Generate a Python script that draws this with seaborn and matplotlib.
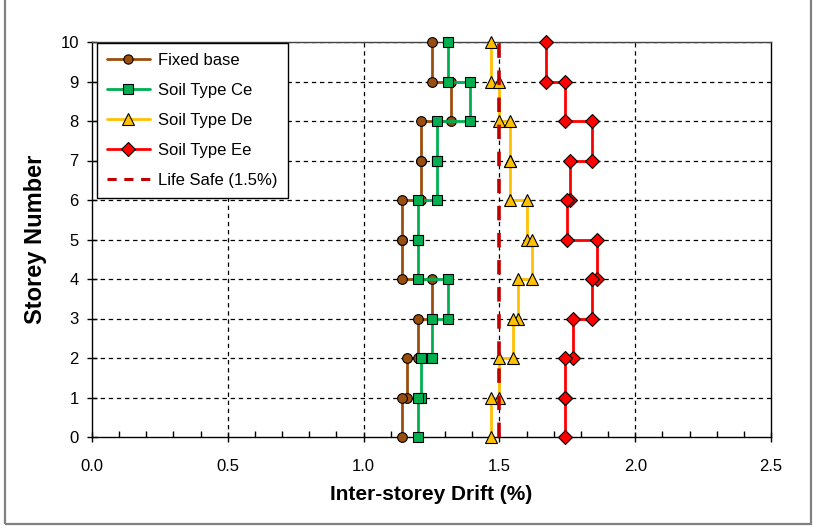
import numpy as np
import pandas as pd
import seaborn as sns
import matplotlib
matplotlib.use("Agg")
import matplotlib.pyplot as plt
from matplotlib.lines import Line2D
from matplotlib.patches import Rectangle
from matplotlib.ticker import MultipleLocator, FormatStrFormatter

# ---------------- data (drift per storey, storey 1..10) ----------------
storeys = [1, 2, 3, 4, 5, 6, 7, 8, 9, 10]
fixed_base = [1.14, 1.16, 1.20, 1.25, 1.14, 1.14, 1.21, 1.21, 1.32, 1.25]
soil_ce = [1.20, 1.21, 1.25, 1.31, 1.20, 1.20, 1.27, 1.27, 1.39, 1.31]
soil_de = [1.47, 1.50, 1.55, 1.57, 1.62, 1.60, 1.54, 1.54, 1.50, 1.47]
soil_ee = [1.74, 1.74, 1.77, 1.84, 1.86, 1.75, 1.76, 1.84, 1.74, 1.67]
life_safe = 1.5
series_names = ["Fixed base", "Soil Type Ce", "Soil Type De", "Soil Type Ee"]
life_label = "Life Safe (1.5%)"
x_ticks = [0.0, 0.5, 1.0, 1.5, 2.0, 2.5]
y_ticks = [0, 1, 2, 3, 4, 5, 6, 7, 8, 9, 10]

colors = {"Fixed base": "#9A4E0E", "Soil Type Ce": "#00B050",
          "Soil Type De": "#FFC000", "Soil Type Ee": "#FF0000"}
markers = {"Fixed base": "o", "Soil Type Ce": "s",
           "Soil Type De": "^", "Soil Type Ee": "D"}
msizes = {"Fixed base": 7, "Soil Type Ce": 7, "Soil Type De": 9, "Soil Type Ee": 7.5}


def step_profile(name, drifts):
    rows = []
    for s, d in sorted(zip(storeys, drifts), reverse=True):
        rows.append((name, d, s))
        rows.append((name, d, s - 1))
    return rows


rows = []
for name, vals in zip(series_names, [fixed_base, soil_ce, soil_de, soil_ee]):
    rows += step_profile(name, vals)
df = pd.DataFrame(rows, columns=["series", "drift", "storey"])
df_life = pd.DataFrame({"drift": [life_safe, life_safe], "storey": [min(y_ticks), max(y_ticks)]})

# ---------------- figure ----------------
sns.set_theme(style="white")
plt.rcParams["font.family"] = ["Liberation Sans", "DejaVu Sans"]
plt.rcParams["text.color"] = "black"
plt.rcParams["axes.labelcolor"] = "black"
plt.rcParams["xtick.color"] = "black"
plt.rcParams["ytick.color"] = "black"

W, H = 813, 529
fig = plt.figure(figsize=(W / 100, H / 100), dpi=100)
ax = fig.add_axes([92 / W, 1 - 437 / H, (771 - 92) / W, (437 - 42) / H])

ax.set_xlim(0, 2.5)
ax.set_ylim(0, 10)

# grid
for xv in x_ticks[1:-1]:
    ax.axvline(xv, color="black", lw=0.9, ls=(0, (3.5, 3)), zorder=1)
for yv in y_ticks[1:]:
    ax.axhline(yv, color="black", lw=0.9, ls=(0, (3.5, 3)), zorder=1)

for name in series_names:
    sub = df[df["series"] == name]
    sns.lineplot(data=sub, x="drift", y="storey", ax=ax, sort=False, estimator=None,
                 color=colors[name], lw=2.0, marker=markers[name],
                 markersize=msizes[name], markerfacecolor=colors[name],
                 markeredgecolor="black", markeredgewidth=0.8, zorder=3,
                 legend=False, clip_on=False)

sns.lineplot(data=df_life, x="drift", y="storey", ax=ax, sort=False, estimator=None,
             color="#C00000", lw=2.6, ls=(0, (4, 3.5)), zorder=4, legend=False)

# axes styling
for side in ["left", "right", "bottom"]:
    ax.spines[side].set_color("black")
    ax.spines[side].set_linewidth(1.0)
ax.spines["top"].set_color("#444444")
ax.spines["top"].set_linewidth(1.0)

ax.xaxis.set_major_locator(MultipleLocator(0.5))
ax.xaxis.set_minor_locator(MultipleLocator(0.1))
ax.xaxis.set_major_formatter(FormatStrFormatter("%.1f"))
ax.set_yticks(y_ticks)
ax.tick_params(axis="x", which="major", direction="inout", length=7, width=1,
               labelsize=12, pad=12, colors="black", bottom=True)
ax.tick_params(axis="x", which="minor", direction="in", length=4, width=1, bottom=True)
ax.tick_params(axis="y", which="major", direction="inout", length=7, width=1,
               labelsize=12, pad=6, colors="black", left=True)

ax.set_xlabel("Inter-storey Drift (%)", fontsize=15, fontweight="bold", labelpad=8)
ax.set_ylabel("Storey Number", fontsize=17, fontweight="bold", labelpad=9.5)

# legend
handles = [Line2D([0], [0], color=colors[n], lw=2.0, marker=markers[n],
                  markersize=msizes[n] * 0.95, markerfacecolor=colors[n],
                  markeredgecolor="black", markeredgewidth=0.8) for n in series_names]
handles.append(Line2D([0], [0], color="#C00000", lw=2.2, ls=(0, (3, 2.5))))
leg = ax.legend(handles, series_names + [life_label], loc="upper left",
                bbox_to_anchor=(0.007, 0.997), borderaxespad=0, fontsize=12,
                handlelength=2.6, labelspacing=0.9, handletextpad=0.5,
                borderpad=0.6, fancybox=False, framealpha=1, edgecolor="black")
leg.get_frame().set_linewidth(1.0)
leg.set_zorder(6)

# outer figure border
fig.add_artist(Rectangle((5 / W, 5 / H), (811 - 5) / W, 1.2, transform=fig.transFigure,
                         fill=False, edgecolor="#808080", lw=1.6, clip_on=False))

fig.savefig("out.png", dpi=100)
